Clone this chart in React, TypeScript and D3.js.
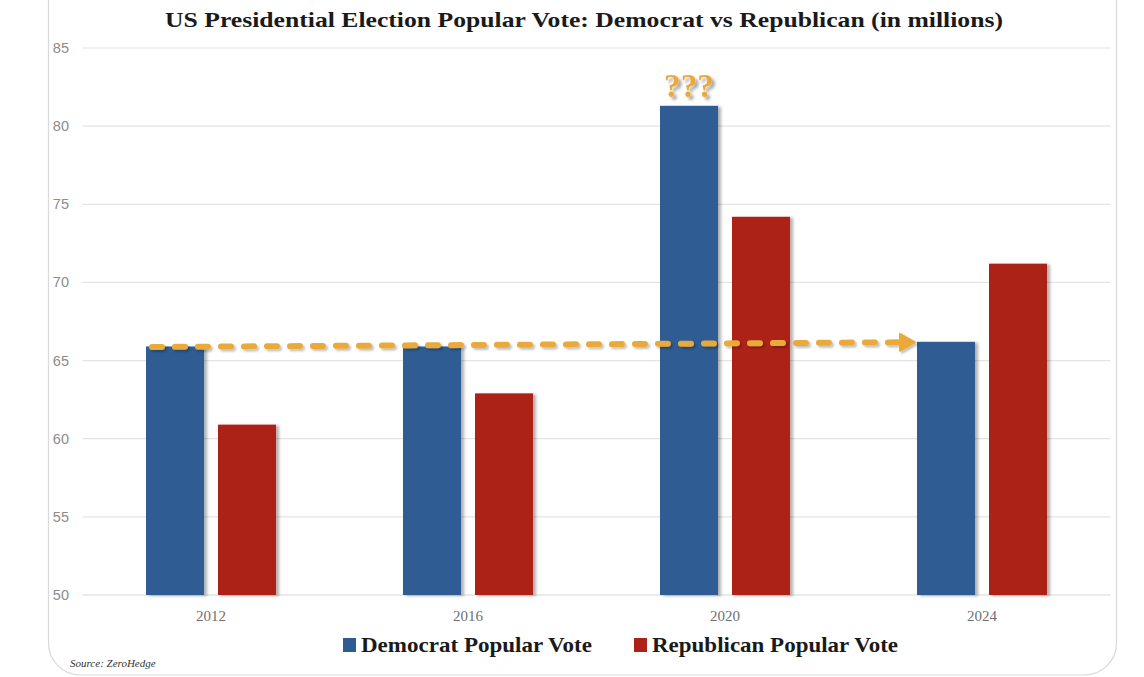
import * as d3 from "d3";
import { useEffect, useRef } from "react";

const years = ["2012", "2016", "2020", "2024"];
const seriesNames = ["Democrat Popular Vote", "Republican Popular Vote"];
const demVotes = [65.9, 65.9, 81.3, 66.2];
const repVotes = [60.9, 62.9, 74.2, 71.2];
const yTicks = [50, 55, 60, 65, 70, 75, 80, 85];

const W = 1144;
const H = 677;
const BLUE = "#2f5b93";
const RED = "#ac2218";
const ORANGE = "#eaaa3a";
const serif = "'Liberation Serif', 'DejaVu Serif', serif";

export default function App() {
  const ref = useRef<SVGSVGElement | null>(null);

  useEffect(() => {
    const el = ref.current;
    if (!el) return;
    const svg = d3.select(el);
    svg.selectAll("*").remove();

    const left = 82.5;
    const right = 1110.5;
    const top = 48;
    const bottom = 595;

    const x = d3.scaleBand<string>().domain(years).range([left, right]).paddingInner(0.494).paddingOuter(0.247);
    const xs = d3.scaleBand<string>().domain(["dem", "rep"]).range([0, x.bandwidth()]).paddingInner(0.194);
    const y = d3.scaleLinear().domain([50, 85]).range([bottom, top]);

    const defs = svg.append("defs");
    const f = defs.append("filter").attr("id", "shadow").attr("x", "-20%").attr("y", "-10%").attr("width", "150%").attr("height", "130%");
    f.append("feDropShadow").attr("dx", 3).attr("dy", 1).attr("stdDeviation", 1.5).attr("flood-color", "#000").attr("flood-opacity", 0.3);
    const f2 = defs.append("filter").attr("id", "qshadow").attr("x", "-20%").attr("y", "-20%").attr("width", "150%").attr("height", "150%");
    f2.append("feDropShadow").attr("dx", 3).attr("dy", 3).attr("stdDeviation", 1.5).attr("flood-color", "#000").attr("flood-opacity", 0.35);
    const f3 = defs
      .append("filter")
      .attr("id", "lshadow")
      .attr("filterUnits", "userSpaceOnUse")
      .attr("x", 0)
      .attr("y", 0)
      .attr("width", W)
      .attr("height", H);
    f3.append("feDropShadow").attr("dx", 2).attr("dy", 2).attr("stdDeviation", 1.2).attr("flood-color", "#000").attr("flood-opacity", 0.25);

    // card
    svg
      .append("rect")
      .attr("x", 48.5)
      .attr("y", -40)
      .attr("width", 1068)
      .attr("height", 715)
      .attr("rx", 32)
      .attr("fill", "#fff")
      .attr("stroke", "#d9d9d9")
      .attr("stroke-width", 1.2);

    // title
    svg
      .append("text")
      .attr("x", 584)
      .attr("y", 27)
      .attr("text-anchor", "middle")
      .attr("font-family", serif)
      .attr("font-weight", "bold")
      .attr("font-size", 22)
      .attr("textLength", 838)
      .attr("lengthAdjust", "spacingAndGlyphs")
      .attr("fill", "#1a1a1a")
      .text("US Presidential Election Popular Vote: Democrat vs Republican (in millions)");

    // grid + y ticks
    const grid = svg.append("g");
    grid
      .selectAll("line")
      .data(yTicks)
      .join("line")
      .attr("x1", left)
      .attr("x2", right)
      .attr("y1", (d) => y(d))
      .attr("y2", (d) => y(d))
      .attr("stroke", (d) => (d === 50 ? "#d8d8d8" : "#e4e4e4"))
      .attr("stroke-width", 1.2);
    grid
      .selectAll("text")
      .data(yTicks)
      .join("text")
      .attr("x", 69)
      .attr("y", (d) => y(d) + 5)
      .attr("text-anchor", "end")
      .attr("font-family", "'Liberation Sans', Arial, sans-serif")
      .attr("font-size", 14.5)
      .attr("fill", "#8c8c8c")
      .text((d) => d);

    // bars
    const groups = svg
      .append("g")
      .selectAll("g")
      .data(years)
      .join("g")
      .attr("transform", (d) => `translate(${x(d)},0)`);
    groups
      .append("rect")
      .attr("x", xs("dem")!)
      .attr("width", xs.bandwidth())
      .attr("y", (_, i) => y(demVotes[i]))
      .attr("height", (_, i) => y(50) - y(demVotes[i]))
      .attr("fill", BLUE)
      .attr("filter", "url(#shadow)");
    groups
      .append("rect")
      .attr("x", xs("rep")!)
      .attr("width", xs.bandwidth())
      .attr("y", (_, i) => y(repVotes[i]))
      .attr("height", (_, i) => y(50) - y(repVotes[i]))
      .attr("fill", RED)
      .attr("filter", "url(#shadow)");

    // x labels
    svg
      .append("g")
      .selectAll("text")
      .data(years)
      .join("text")
      .attr("x", (d) => x(d)! + x.bandwidth() / 2)
      .attr("y", 621)
      .attr("text-anchor", "middle")
      .attr("font-family", serif)
      .attr("font-size", 15)
      .attr("fill", "#707070")
      .text((d) => d);

    // dashed arrow from 2012 Dem to 2024 Dem
    const x0 = x(years[0])! + xs("dem")! + 6;
    const tipX = x(years[3])! + xs("dem")! - 2;
    const y0 = y(demVotes[0]) + 0.5;
    const y1 = y(demVotes[3]) + 0.5;
    const arrow = svg.append("g").attr("filter", "url(#lshadow)");
    arrow
      .append("line")
      .attr("x1", x0)
      .attr("y1", y0)
      .attr("x2", tipX - 14)
      .attr("y2", y1)
      .attr("stroke", ORANGE)
      .attr("stroke-width", 6)
      .attr("stroke-linecap", "round")
      .attr("stroke-dasharray", "10,13");
    arrow
      .append("path")
      .attr("d", `M${tipX},${y1} L${tipX - 15},${y1 - 8.5} L${tipX - 15},${y1 + 8.5} Z`)
      .attr("fill", ORANGE)
      .attr("stroke", ORANGE)
      .attr("stroke-linejoin", "round")
      .attr("stroke-width", 2);

    // ??? over 2020 Dem bar
    svg
      .append("text")
      .attr("x", x(years[2])! + xs("dem")! + xs.bandwidth() / 2)
      .attr("y", y(demVotes[2]) - 9)
      .attr("text-anchor", "middle")
      .attr("font-family", serif)
      .attr("font-weight", "bold")
      .attr("font-size", 34)
      .attr("textLength", 50)
      .attr("lengthAdjust", "spacingAndGlyphs")
      .attr("fill", ORANGE)
      .attr("filter", "url(#qshadow)")
      .text("???");

    // legend
    const legend = svg.append("g").selectAll("g").data(seriesNames).join("g")
      .attr("transform", (_, i) => `translate(${i === 0 ? 343 : 634},638)`);
    legend
      .append("rect")
      .attr("width", 13)
      .attr("height", 14)
      .attr("fill", (_, i) => (i === 0 ? BLUE : RED));
    legend
      .append("text")
      .attr("x", 18)
      .attr("y", 14)
      .attr("font-family", serif)
      .attr("font-weight", "bold")
      .attr("font-size", 21)
      .attr("fill", "#1a1a1a")
      .attr("textLength", (_, i) => (i === 0 ? 231 : 246))
      .attr("lengthAdjust", "spacingAndGlyphs")
      .text((d) => d);

    svg
      .append("text")
      .attr("x", 70)
      .attr("y", 667)
      .attr("font-family", serif)
      .attr("font-style", "italic")
      .attr("font-size", 11)
      .attr("fill", "#333")
      .text("Source: ZeroHedge");
  }, []);

  return (
    <svg
      ref={ref}
      width={W}
      height={H}
      viewBox={`0 0 ${W} ${H}`}
      style={{ position: "absolute", left: 0, top: 0, background: "#fff" }}
    />
  );
}
